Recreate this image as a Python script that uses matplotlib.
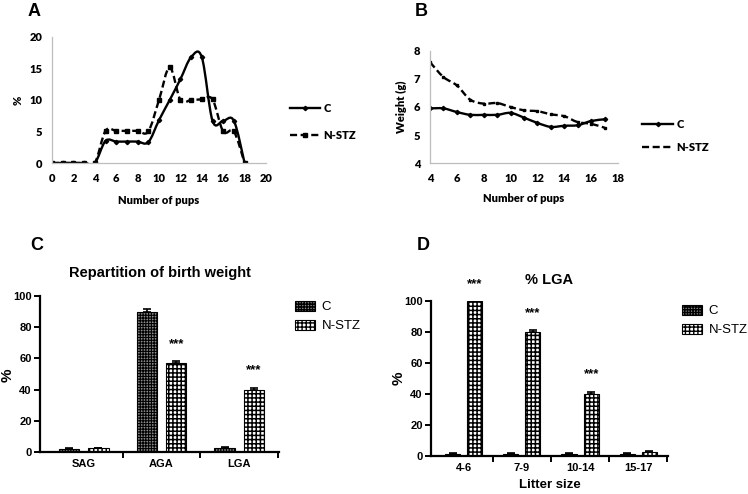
import matplotlib
matplotlib.use('Agg')
import matplotlib.pyplot as plt
import numpy as np
from matplotlib.path import Path
from matplotlib.patches import PathPatch
from matplotlib.lines import Line2D

# A: distribution of litter size (%)
pups_a = list(range(0, 19))
pct_c = [0, 0, 0, 0, 0, 3.5, 3.4, 3.4, 3.4, 3.3, 6.8, 10, 13.3, 16.8, 16.8, 6.7, 6.7, 6.7, 0]
pct_stz = [0, 0, 0, 0, 0, 5.1, 5.1, 5.1, 5.1, 5.0, 10, 15.2, 10, 10, 10.1, 10.1, 5, 5, 0]

# B: pup weight vs litter size
pups_b = list(range(4, 18))
wt_c = [5.95, 5.95, 5.82, 5.72, 5.72, 5.72, 5.79, 5.62, 5.43, 5.29, 5.33, 5.35, 5.5, 5.56]
wt_stz = [7.6, 7.07, 6.77, 6.26, 6.12, 6.14, 6.0, 5.88, 5.85, 5.74, 5.67, 5.46, 5.4, 5.26]

# C: repartition of birth weight
classes = ['SAG', 'AGA', 'LGA']
rep_c = [1.8, 90, 2.8]
rep_c_err = [0.5, 1.5, 0.5]
rep_stz = [2.3, 57, 40]
rep_stz_err = [0.5, 1.2, 1.2]
rep_sig = ['', '***', '***']

# D: % LGA by litter size
litter = ['4-6', '7-9', '10-14', '15-17']
lga_c = [1.6, 1.6, 1.4, 1.4]
lga_c_err = [0.5, 0.5, 0.4, 0.4]
lga_stz = [100, 80, 40, 2.5]
lga_stz_err = [0, 1, 1.5, 0.5]
lga_sig = ['***', '***', '***', '']

XL = ['Lato', 'DejaVu Sans']
PR = ['Liberation Sans', 'DejaVu Sans']


def smooth(ax, x, y, **kw):
    # excel-like smoothed line: bezier segments through the points
    x = np.asarray(x, float)
    y = np.asarray(y, float)
    n = len(x)
    verts = [(x[0], y[0])]
    codes = [Path.MOVETO]
    for i in range(n - 1):
        a = max(i - 1, 0)
        b = min(i + 2, n - 1)
        c1 = (x[i] + (x[i + 1] - x[a]) / 6, y[i] + (y[i + 1] - y[a]) / 6)
        c2 = (x[i + 1] - (x[b] - x[i]) / 6, y[i + 1] - (y[b] - y[i]) / 6)
        verts += [c1, c2, (x[i + 1], y[i + 1])]
        codes += [Path.CURVE4] * 3
    ax.add_patch(PathPatch(Path(verts, codes), fill=False, **kw))


def excel_axes(ax):
    for s in ['top', 'right']:
        ax.spines[s].set_visible(False)
    for s in ['left', 'bottom']:
        ax.spines[s].set_color('#bdbdbd')
        ax.spines[s].set_linewidth(0.9)
    ax.tick_params(length=0, labelsize=8, pad=7)
    for t in ax.get_xticklabels() + ax.get_yticklabels():
        t.set_family(XL)
        t.set_fontweight('heavy')


def prism_axes(ax, n):
    for s in ['top', 'right']:
        ax.spines[s].set_visible(False)
    for s in ['left', 'bottom']:
        ax.spines[s].set_linewidth(1.6)
    ax.set_xlim(-0.56, n - 0.49)
    ax.set_xticks(np.arange(n) + 0.5, minor=True)
    ax.tick_params(axis='x', which='major', length=0, pad=5)
    ax.tick_params(axis='x', which='minor', length=4, width=1.4)
    ax.tick_params(axis='y', length=4, width=1.4, pad=2)
    ax.set_ylim(0, 100)
    ax.set_yticks(range(0, 101, 20))
    for t in ax.get_xticklabels() + ax.get_yticklabels():
        t.set_family(PR)
        t.set_fontweight('bold')
        t.set_fontsize(8)


def bars(ax, cats, vc, ec, vs, es, sig):
    x = np.arange(len(cats))
    w = 0.26
    with plt.rc_context({'hatch.linewidth': 0.8}):
        ax.bar(x - 0.19, vc, w, color='#8c8c8c', edgecolor='k', linewidth=0.8,
               hatch='++++++', yerr=[[0] * len(ec), ec], capsize=3,
               error_kw=dict(elinewidth=1.2, capthick=1.2), label='C')
    with plt.rc_context({'hatch.linewidth': 1.1}):
        ax.bar(x + 0.19, vs, w, color='white', edgecolor='k', linewidth=0.8,
               hatch='++++', yerr=[[0] * len(es), es], capsize=3,
               error_kw=dict(elinewidth=1.2, capthick=1.2), label='N-STZ')
    for xi, v, e, s in zip(x, vs, es, sig):
        if s:
            ax.annotate(s, (xi + 0.19, v + e), xytext=(0, 8), textcoords='offset points',
                        ha='center', va='bottom', fontsize=9.5, fontweight='bold', family=PR)
    ax.set_xticks(x, cats)


fig = plt.figure(figsize=(7.48, 4.94), dpi=100)
W, H = 748, 494


def box(l, t, r, b):
    return [l / W, 1 - b / H, (r - l) / W, (b - t) / H]


# ---- A
axA = fig.add_axes(box(52, 37, 266, 163))
smooth(axA, pups_a, pct_c, color='k', lw=1.7)
smooth(axA, pups_a, pct_stz, color='k', lw=1.7, linestyle=(0, (3, 1.5)))
axA.plot(pups_a, pct_c, ls='none', marker='D', ms=2.2, color='k')
axA.plot(pups_a, pct_stz, ls='none', marker='s', ms=3.2, color='k')
axA.set_xlim(0, 20)
axA.set_ylim(0, 20)
axA.set_xticks(range(0, 21, 2))
axA.set_yticks(range(0, 21, 5))
excel_axes(axA)
axA.set_xlabel('Number of pups', family=XL, fontweight='heavy', fontsize=8, labelpad=8)
axA.set_ylabel('%', family=XL, fontweight='heavy', fontsize=8, labelpad=4)
hA = [Line2D([], [], color='k', lw=1.7, marker='D', ms=2.2),
      Line2D([], [], color='k', lw=1.7, ls=(0, (3, 1.5)), marker='s', ms=3.2)]
axA.legend(hA, ['C', 'N-STZ'], loc='center left', bbox_to_anchor=(290 / W, 1 - 122 / H),
           bbox_transform=fig.transFigure, frameon=False, borderpad=0, borderaxespad=0,
           handlelength=2.7, handletextpad=0.3, labelspacing=1.4,
           prop=dict(family=XL, weight='heavy', size=8))

# ---- B
axB = fig.add_axes(box(430, 51, 618, 163))
smooth(axB, pups_b, wt_c, color='k', lw=1.7)
smooth(axB, pups_b, wt_stz, color='k', lw=1.7, linestyle=(0, (3, 1.5)))
axB.plot(pups_b, wt_c, ls='none', marker='D', ms=2.2, color='k')
axB.plot(pups_b, wt_stz, ls='none', marker='s', ms=2.0, color='k')
axB.set_xlim(4, 18)
axB.set_ylim(4, 8)
axB.set_xticks(range(4, 19, 2))
axB.set_yticks(range(4, 9))
excel_axes(axB)
axB.set_xlabel('Number of pups', family=XL, fontweight='heavy', fontsize=8, labelpad=7)
axB.set_ylabel('Weight (g)', family=XL, fontweight='heavy', fontsize=8, labelpad=5)
hB = [Line2D([], [], color='k', lw=1.7, marker='D', ms=2.2),
      Line2D([], [], color='k', lw=1.7, ls=(0, (3, 1.5)))]
axB.legend(hB, ['C', 'N-STZ'], loc='center left', bbox_to_anchor=(642 / W, 1 - 136 / H),
           bbox_transform=fig.transFigure, frameon=False, borderpad=0, borderaxespad=0,
           handlelength=2.8, handletextpad=0.3, labelspacing=1.1,
           prop=dict(family=XL, weight='heavy', size=8))

# ---- C
axC = fig.add_axes(box(40, 296, 279, 452))
bars(axC, classes, rep_c, rep_c_err, rep_stz, rep_stz_err, rep_sig)
prism_axes(axC, len(classes))
axC.set_ylabel('%', family=PR, fontweight='bold', fontsize=11)
axC.yaxis.set_label_coords(-0.105, 0.49)
axC.set_title('Repartition of birth weight', family=PR, fontweight='bold', fontsize=10.5, pad=14)
axC.legend(loc='center left', bbox_to_anchor=(295 / W, 1 - 316.5 / H),
           bbox_transform=fig.transFigure, frameon=False, borderpad=0, borderaxespad=0,
           handlelength=1.5, handleheight=0.8, handletextpad=0.5, labelspacing=0.5,
           prop=dict(family=PR, size=9.5))

# ---- D
axD = fig.add_axes(box(431, 301, 668, 456))
bars(axD, litter, lga_c, lga_c_err, lga_stz, lga_stz_err, lga_sig)
prism_axes(axD, len(litter))
axD.set_ylabel('%', family=PR, fontweight='bold', fontsize=11)
axD.yaxis.set_label_coords(-0.105, 0.5)
axD.set_xlabel('Litter size', family=PR, fontweight='bold', fontsize=9.5, labelpad=4)
axD.set_title('% LGA', family=PR, fontweight='bold', fontsize=10.5, pad=12)
axD.legend(loc='center left', bbox_to_anchor=(682 / W, 1 - 320.5 / H),
           bbox_transform=fig.transFigure, frameon=False, borderpad=0, borderaxespad=0,
           handlelength=1.5, handleheight=0.8, handletextpad=0.5, labelspacing=0.5,
           prop=dict(family=PR, size=9.5))

# panel letters
for lab, x, y in [('A', 34, 12), ('B', 421, 12), ('C', 37, 246), ('D', 423, 246)]:
    fig.text(x / W, 1 - y / H, lab, family=PR, fontweight='bold', fontsize=13,
             ha='center', va='center')

fig.savefig('out.png', dpi=100)
